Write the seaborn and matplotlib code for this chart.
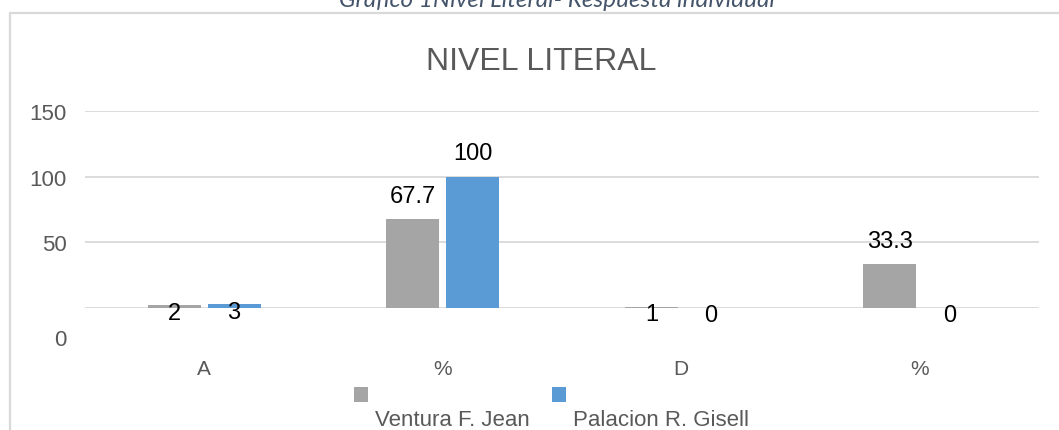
import matplotlib
matplotlib.use("Agg")
import matplotlib.pyplot as plt
from matplotlib import font_manager
from matplotlib.lines import Line2D
from matplotlib.transforms import ScaledTranslation
import pandas as pd
import seaborn as sns

# datos
categorias = ["A", "%", "D", "%"]
series = ["Ventura F. Jean", "Palacion R. Gisell"]
ventura = [2, 67.7, 1, 33.3]
palacion = [3, 100, 0, 0]
ticks_y = [0, 50, 100, 150]
colores = ["#A5A5A5", "#5B9BD5"]

# "%" sale dos veces, asi que uso claves unicas para el eje x
claves = [f"{c}_{i}" for i, c in enumerate(categorias)]
df = pd.DataFrame({
    "clave": claves * 2,
    "serie": [series[0]] * len(claves) + [series[1]] * len(claves),
    "valor": ventura + palacion,
})

sns.set_theme(style="white")
plt.rcParams["font.family"] = ["Liberation Sans", "DejaVu Sans"]

nombres = {f.name for f in font_manager.fontManager.ttflist}
if "Liberation Sans Narrow" in nombres:
    fuente_titulo, tam_titulo = ["Liberation Sans Narrow"], 27
else:
    fuente_titulo, tam_titulo = ["Liberation Sans"], 23

W, H = 1059, 431
fig = plt.figure(figsize=(W / 100, H / 100), dpi=100)
ax = fig.add_axes([85 / W, (H - 309) / H, (1039 - 85) / W, (309 - 112.3) / H])

sns.barplot(data=df, x="clave", y="valor", hue="serie", order=claves,
            hue_order=series, palette=colores, width=0.5, gap=0.11,
            saturation=1, linewidth=0, edgecolor="none", ax=ax)
handles, labels = ax.get_legend_handles_labels()
ax.get_legend().remove()

# etiquetas de datos
for cont in ax.containers:
    for barra in cont:
        h = barra.get_height()
        dy = 17.5 if h >= 10 else -13.5   # px, hasta la linea base del texto
        ax.annotate(f"{h:g}", (barra.get_x() + barra.get_width() / 2, h),
                    xytext=(0, dy * 0.72), textcoords="offset points",
                    ha="center", va="baseline", fontsize=17, color="black")

ax.set_ylim(0, 150)
ax.set_yticks(ticks_y)
ax.set_xticks(range(len(categorias)))
ax.set_xticklabels(categorias)
ax.set_xlabel("")
ax.set_ylabel("")
ax.yaxis.grid(True, color="#D9D9D9", linewidth=1.3)
ax.set_axisbelow(True)
sns.despine(ax=ax, left=True, bottom=True)
ax.tick_params(axis="y", length=0, pad=13, labelsize=16, labelcolor="#595959")
ax.tick_params(axis="x", length=0, pad=37, labelsize=15, labelcolor="#595959")

# el 0 del eje va mas abajo, como en el original
lab0 = ax.get_yticklabels()[0]
lab0.set_transform(lab0.get_transform() + ScaledTranslation(0, -0.295, fig.dpi_scale_trans))

fig.text(541 / W, 1 - 70 / H, "NIVEL LITERAL", ha="center", va="baseline",
         fontsize=tam_titulo, color="#595959", family=fuente_titulo)

fig.text(557 / W, 1 - 7 / H, "Gráfico 1Nivel Literal- Respuesta individual",
         ha="center", va="baseline", fontsize=17.5, style="italic",
         color="#44546A", family=["Lato", "DejaVu Sans"])

# marco del area del grafico
fig.add_artist(Line2D([9.5 / W, 9.5 / W], [0, 1 - 13.5 / H], color="#D9D9D9", lw=1.6))
fig.add_artist(Line2D([9.5 / W, 1], [1 - 13.5 / H, 1 - 13.5 / H], color="#D9D9D9", lw=1.6))

leg = fig.legend(handles, labels, loc="center left",
                 bbox_to_anchor=(354 / W, 1 - 398 / H), ncol=2, frameon=False,
                 fontsize=16, handlelength=0.63, handleheight=0.63,
                 handletextpad=0.32, columnspacing=1.0, borderpad=0,
                 borderaxespad=0)
for t in leg.get_texts():
    t.set_color("#595959")
    t.set_transform(t.get_transform() + ScaledTranslation(0, -0.225, fig.dpi_scale_trans))

fig.savefig("out.png", dpi=100)
